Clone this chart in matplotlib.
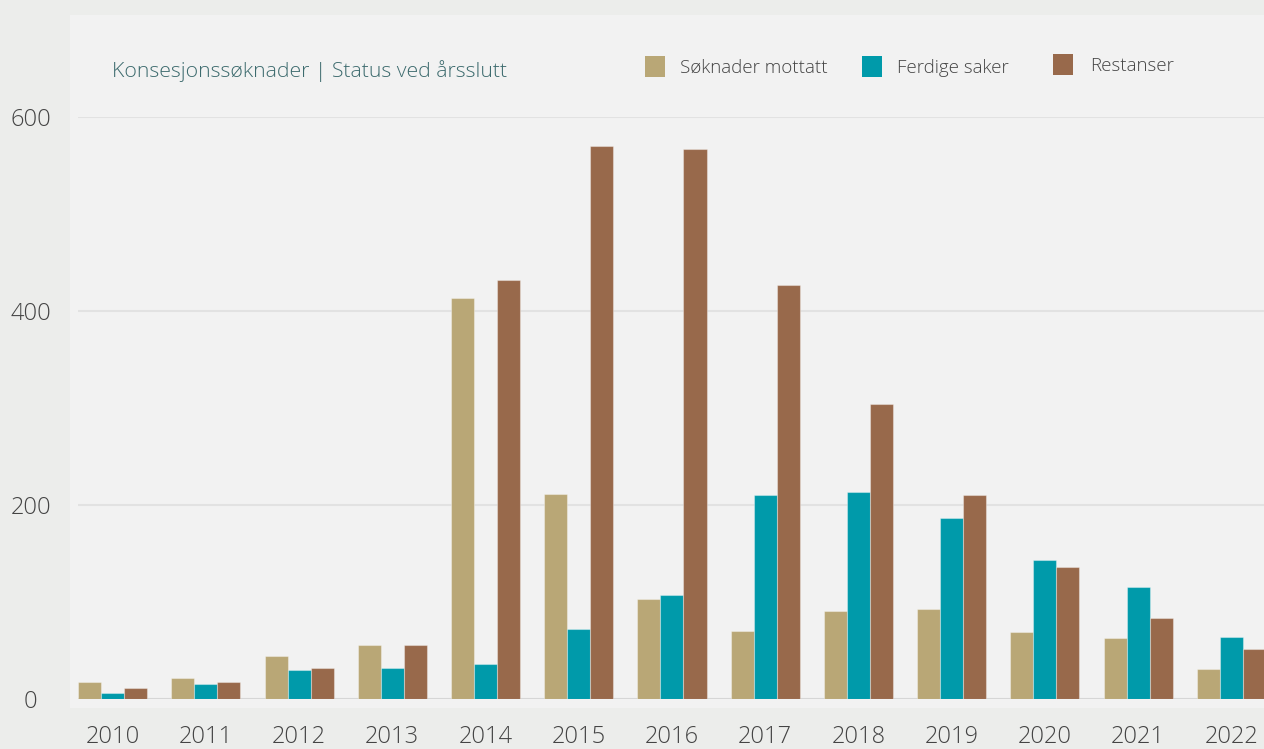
import matplotlib.pyplot as plt
from matplotlib.patches import Rectangle
import numpy as np

plt.rcParams["font.family"] = ["Open Sans", "DejaVu Sans"]

years = ["2010", "2011", "2012", "2013", "2014", "2015", "2016",
         "2017", "2018", "2019", "2020", "2021", "2022"]
soknader_mottatt = [18, 22, 44, 56, 413, 211, 103, 70, 91, 93, 69, 63, 31]
ferdige_saker = [6, 15, 30, 32, 36, 72, 107, 210, 213, 187, 143, 115, 64]
restanser = [11, 18, 32, 56, 432, 570, 567, 427, 304, 210, 136, 83, 52]

series = [
    ("Søknader mottatt", soknader_mottatt, "#b9a776"),
    ("Ferdige saker", ferdige_saker, "#009aaa"),
    ("Restanser", restanser, "#98694b"),
]

W, H = 1264, 749
fig = plt.figure(figsize=(W / 100, H / 100), dpi=100)
fig.patch.set_facecolor("#ecedeb")

# light panel behind the chart
fig.add_artist(Rectangle((70 / W, 1 - 708 / H), (W - 70) / W, (708 - 15) / H,
                         transform=fig.transFigure, facecolor="#f2f2f2",
                         edgecolor="none", zorder=0))

ax = fig.add_axes([78 / W, 50 / H, (W - 78) / W, 582 / H])
ax.set_facecolor("none")

x = np.arange(len(years))
bw = 0.247
for i, (name, vals, col) in enumerate(series):
    ax.bar(x + (i - 1) * bw, vals, width=bw, color=col,
           edgecolor=(1, 1, 1, 0.35), linewidth=0.8, zorder=3)

ax.set_xlim(-0.371, 12.35)
ax.set_ylim(0, 600)

for s in ax.spines.values():
    s.set_visible(False)

ax.set_yticks([0, 200, 400, 600])
ax.set_yticklabels(["0", "200", "400", "600"])
ax.grid(axis="y", color="#e2e2e2", linewidth=1.5, zorder=1)
ax.axhline(0, color="#d6d6d6", linewidth=2.2, zorder=2)
ax.tick_params(axis="y", length=0, pad=34, labelsize=17, labelcolor="#444444")
for lab in ax.get_yticklabels():
    lab.set_horizontalalignment("center")
    lab.set_fontweight("light")

ax.set_xticks(x)
ax.set_xticklabels(years)
ax.tick_params(axis="x", length=0, pad=19, labelsize=17, labelcolor="#444444")
for lab in ax.get_xticklabels():
    lab.set_fontweight("light")

# title
fig.text(112 / W, 1 - 71 / H, "Konsesjonssøknader | Status ved årsslutt",
         fontsize=15.3, color="#3d6b6e", va="center", ha="left", fontweight="light")

# legend
leg = [(645, 67, 680), (862, 67, 897), (1053, 65, 1090)]
for (name, vals, col), (sx, sy, tx) in zip(series, leg):
    fig.add_artist(Rectangle((sx / W, 1 - (sy + 10) / H), 20 / W, 21 / H,
                             transform=fig.transFigure, facecolor=col,
                             edgecolor="none"))
    fig.text(tx / W, 1 - (sy + 1) / H, name, fontsize=13.5, color="#444444",
             va="center", ha="left", fontweight="light")

fig.savefig("out.png", dpi=100, facecolor=fig.get_facecolor())
